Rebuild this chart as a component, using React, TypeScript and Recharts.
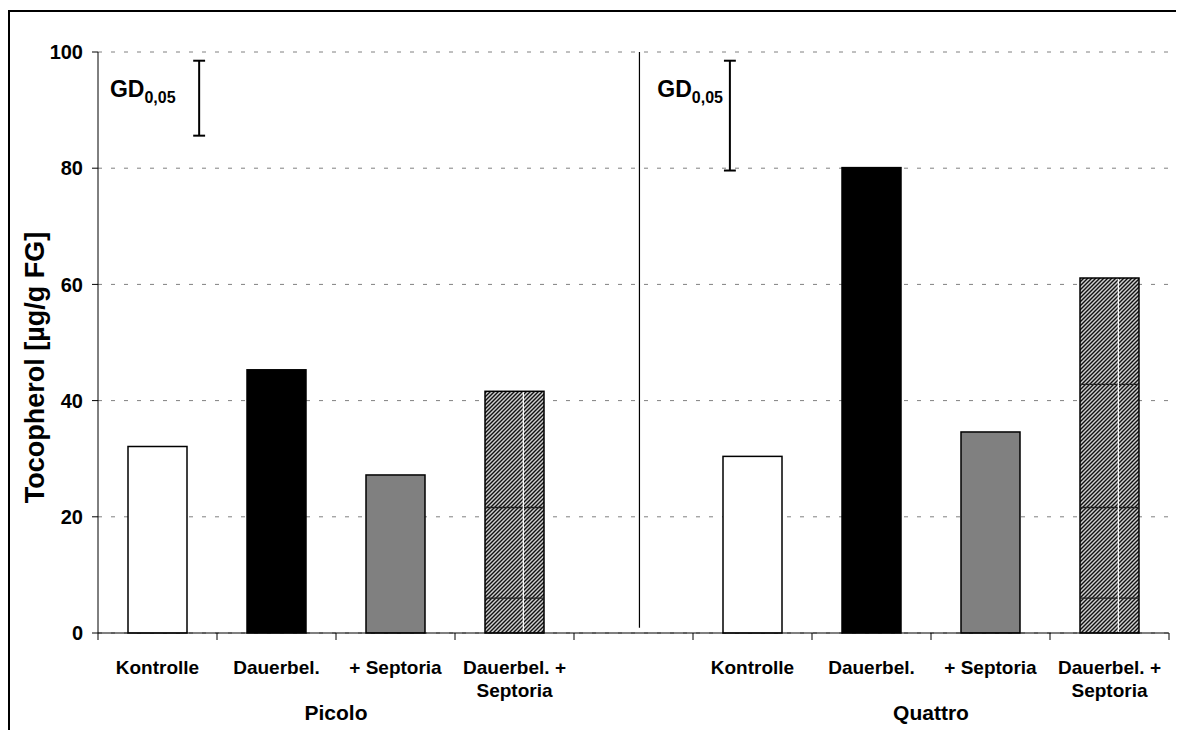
import React from "react";
import {
  BarChart,
  Bar,
  XAxis,
  YAxis,
  CartesianGrid,
  ReferenceLine,
  ReferenceDot,
} from "recharts";

// values (µg/g FG)
const categories = ["Kontrolle", "Dauerbel.", "+ Septoria", "Dauerbel. +\nSeptoria"];
const groups = ["Picolo", "Quattro"];
const picolo = [32.1, 45.3, 27.2, 41.6];
const quattro = [30.4, 80.1, 34.6, 61.1];
const fills = ["#ffffff", "#000000", "#808080", "url(#hatch)"];
const yTicks = [0, 20, 40, 60, 80, 100];

// LSD (GD 0,05) bars: [low, high] and slot position on the 0..9 axis
const gdPicolo = [85.6, 98.5];
const gdQuattro = [79.6, 98.5];
const gdPos = [0.85, 5.31];
const gdLabelPos = [0.1, 4.7];
const gdLabelY = 92.3;
const separatorPos = 4.55;
// pattern seams visible on the hatched bars
const hatchSeams = [6, 21.6, 42.8];

const FONT = "'Liberation Sans', Arial, sans-serif";

const data = [
  ...categories.map((c, i) => ({ key: "P" + i, label: c, value: picolo[i], fill: fills[i], slot: i + 0.5 })),
  { key: "gap", label: "", value: null as number | null, fill: "none", slot: 4.5 },
  ...categories.map((c, i) => ({ key: "Q" + i, label: c, value: quattro[i], fill: fills[i], slot: i + 5.5 })),
];

const labelOf = (k: string) => data.find((d) => d.key === k)?.label ?? "";

// category label + tick marks between categories (Excel style) + group name
function CategoryTick(props: any) {
  const { x, y, payload, index } = props;
  const slot = (props.width || 1071) / data.length;
  const lines = labelOf(payload.value).split("\n");
  const top = y - 2;
  const groupIdx = payload.value === "P1" ? 0 : payload.value === "Q1" ? 1 : -1;
  return (
    <g>
      <line x1={x - slot / 2} x2={x - slot / 2} y1={top} y2={top + 7} stroke="#000" strokeWidth={1} />
      {index === data.length - 1 && (
        <line x1={x + slot / 2} x2={x + slot / 2} y1={top} y2={top + 7} stroke="#000" strokeWidth={1} />
      )}
      <text x={x} y={y} textAnchor="middle" fontFamily={FONT} fontWeight="bold" fontSize={19} fill="#000">
        {lines.map((l, i) => (
          <tspan key={i} x={x} dy={i === 0 ? 39 : 23}>
            {l}
          </tspan>
        ))}
      </text>
      {groupIdx >= 0 && (
        <text x={x + slot / 2} y={y + 85} textAnchor="middle" fontFamily={FONT} fontWeight="bold" fontSize={21} fill="#000">
          {groups[groupIdx]}
        </text>
      )}
    </g>
  );
}

function BarShape(props: any) {
  const { x, y, width, height, fill, value } = props;
  if (!height || height <= 0) return null;
  const hatched = fill === "url(#hatch)";
  const v = Array.isArray(value) ? value[1] : value;
  const unit = height / v;
  return (
    <g>
      <rect x={x} y={y} width={width} height={height} fill={fill} stroke="#000" strokeWidth={1.5} />
      {hatched && (
        <g>
          {hatchSeams
            .filter((s) => s < v - 3)
            .map((s) => (
              <line key={s} x1={x} x2={x + width} y1={y + height - s * unit} y2={y + height - s * unit} stroke="#222" strokeWidth={1.3} />
            ))}
          <line x1={x + width * 0.65} x2={x + width * 0.65} y1={y + 1} y2={y + height - 1} stroke="#fff" strokeWidth={1.2} />
        </g>
      )}
    </g>
  );
}

function GdLabel({ cx, cy }: any) {
  return (
    <text x={cx} y={cy} fontFamily={FONT} fontWeight="bold" fontSize={23} fill="#000">
      GD
      <tspan fontSize={16} dy={6}>
        0,05
      </tspan>
    </text>
  );
}

function YTitle({ viewBox }: any) {
  const cx = viewBox.x + 25;
  const cy = viewBox.y + viewBox.height / 2 + 25;
  return (
    <text
      x={cx}
      y={cy}
      transform={`rotate(-90 ${cx} ${cy})`}
      textAnchor="middle"
      dominantBaseline="central"
      fontFamily={FONT}
      fontWeight="bold"
      fontSize={27}
      fill="#000"
    >
      Tocopherol [µg/g FG]
    </text>
  );
}

export default function App() {
  const gds = [gdPicolo, gdQuattro];
  return (
    <div style={{ paddingTop: 2 }}>
      <div style={{ borderTop: "2px solid #000", borderLeft: "2px solid #000", width: 1174, height: 718 }}>
        <BarChart
          width={1174}
          height={718}
          data={data}
          margin={{ top: 40, right: 15, bottom: 0, left: 0 }}
          barSize={59}
        >
          <defs>
            <pattern id="hatch" width="4" height="4" patternUnits="userSpaceOnUse">
              <rect width="4" height="4" fill="#cfcfcf" />
              <path d="M-1,1 l2,-2 M0,4 l4,-4 M3,5 l2,-2" stroke="#111" strokeWidth={1.4} />
            </pattern>
          </defs>
          <CartesianGrid xAxisId="cat" vertical={false} stroke="#808080" strokeDasharray="4 9" />
          <XAxis
            xAxisId="cat"
            dataKey="key"
            stroke="#000"
            tickLine={false}
            tickSize={0}
            height={97}
            interval={0}
            tick={<CategoryTick />}
          />
          <XAxis xAxisId="num" type="number" dataKey="slot" domain={[0, 9]} allowDataOverflow hide />
          <YAxis
            domain={[0, 100]}
            ticks={yTicks}
            width={88}
            tickSize={6}
            tickMargin={9}
            stroke="#000"
            tick={{ fontFamily: FONT, fontWeight: "bold", fontSize: 20, fill: "#000" }}
            label={<YTitle />}
          />
          <Bar xAxisId="cat" dataKey="value" isAnimationActive={false} shape={<BarShape />} />
          <ReferenceLine
            xAxisId="num"
            segment={[
              { x: separatorPos, y: 0.9 },
              { x: separatorPos, y: 100 },
            ]}
            stroke="#000"
            strokeWidth={1.2}
          />
          {gds.map((r, i) => (
            <ReferenceLine
              key={"v" + i}
              xAxisId="num"
              segment={[
                { x: gdPos[i], y: r[0] },
                { x: gdPos[i], y: r[1] },
              ]}
              stroke="#000"
              strokeWidth={2}
            />
          ))}
          {gds.flatMap((r, i) =>
            r.map((yv, j) => (
              <ReferenceLine
                key={"c" + i + j}
                xAxisId="num"
                segment={[
                  { x: gdPos[i] - 0.05, y: yv },
                  { x: gdPos[i] + 0.05, y: yv },
                ]}
                stroke="#000"
                strokeWidth={2}
              />
            ))
          )}
          {gdLabelPos.map((p, i) => (
            <ReferenceDot key={"l" + i} xAxisId="num" x={p} y={gdLabelY} r={0} shape={<GdLabel />} />
          ))}
        </BarChart>
      </div>
    </div>
  );
}
